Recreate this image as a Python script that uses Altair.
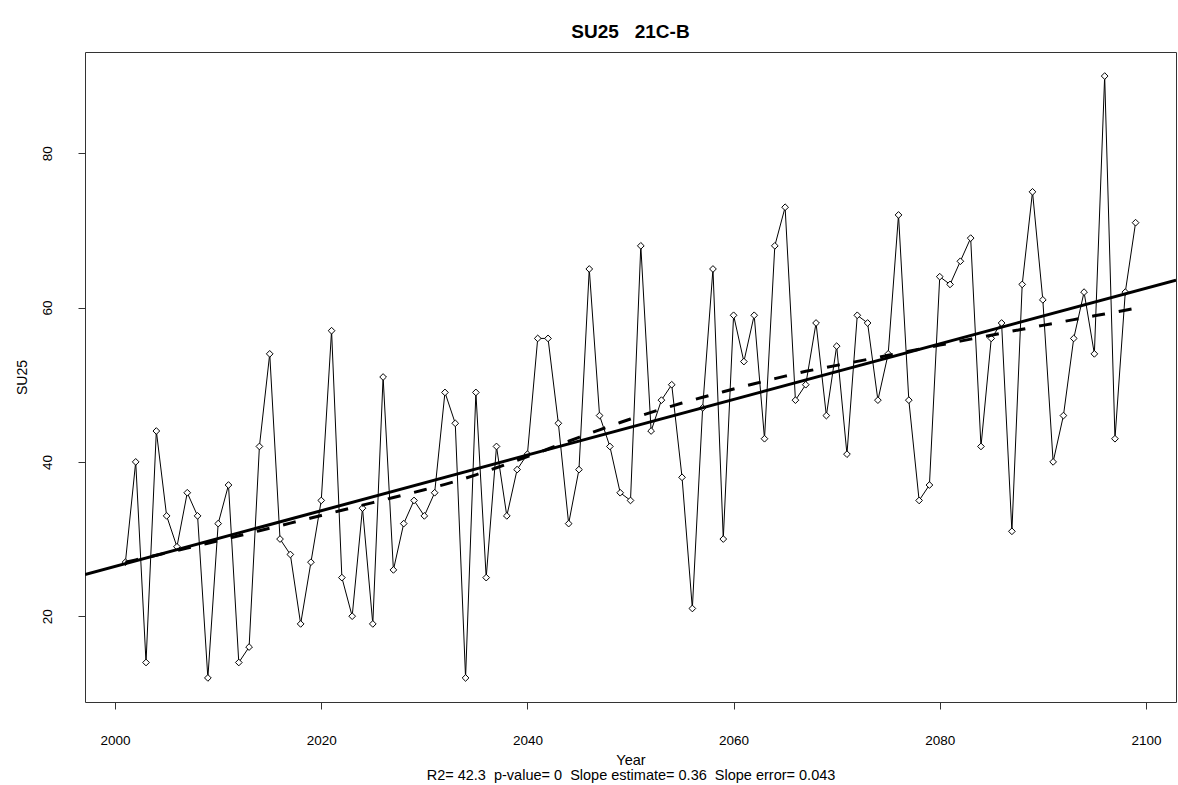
import altair as alt
import pandas as pd

years = list(range(2001, 2100))
su25 = [27, 40, 14, 44, 33, 29, 36, 33, 12, 32,
        37, 14, 16, 42, 54, 30, 28, 19, 27, 35,
        57, 25, 20, 34, 19, 51, 26, 32, 35, 33,
        36, 49, 45, 12, 49, 25, 42, 33, 39, 41,
        56, 56, 45, 32, 39, 65, 46, 42, 36, 35,
        68, 44, 48, 50, 38, 21, 47, 65, 30, 59,
        53, 59, 43, 68, 73, 48, 50, 58, 46, 55,
        41, 59, 58, 48, 54, 72, 48, 35, 37, 64,
        63, 66, 69, 42, 56, 58, 31, 63, 75, 61,
        40, 46, 56, 62, 54, 90, 43, 62, 71]
x_ticks = [2000, 2020, 2040, 2060, 2080, 2100]
y_ticks = [20, 40, 60, 80]
x_domain = [1997.08, 2102.92]
y_domain = [8.88, 93.12]

NB = "\u00a0"
title_text = "SU25" + NB * 3 + "21C-B"
sub_text = (NB * 2).join(["R2= 42.3", "p-value= 0", "Slope estimate= 0.36", "Slope error= 0.043"])

df = pd.DataFrame({"Year": years, "SU25": su25})
FONT = "Liberation Sans"

xs = alt.X("Year:Q",
           scale=alt.Scale(domain=x_domain, nice=False, zero=False),
           axis=alt.Axis(values=x_ticks, format="d", grid=False, domain=False,
                         tickSize=7, tickColor="#333", labelFontSize=13.5, labelPadding=24,
                         labelColor="#000", labelFont=FONT,
                         title=["Year", sub_text], titleFont=FONT, titleFontSize=14.5,
                         titleFontWeight="normal", titleColor="#000",
                         titleLineHeight=15, titleBaseline="top", titleY=51))
ys = alt.Y("SU25:Q",
           scale=alt.Scale(domain=y_domain, nice=False, zero=False),
           axis=alt.Axis(values=y_ticks, grid=False, domain=False,
                         tickSize=7, tickColor="#333", labelFontSize=13.5,
                         labelAngle=-90, labelAlign="center", labelBaseline="middle",
                         labelPadding=31, labelColor="#000", labelFont=FONT,
                         title="SU25", titleFont=FONT, titleFontSize=14,
                         titleFontWeight="normal", titleColor="#000",
                         titleAngle=-90, titleBaseline="middle", titleX=-63))

base = alt.Chart(df)
line = base.mark_line(color="black", strokeWidth=1).encode(x=xs, y=ys)
pts = base.mark_point(shape="diamond", filled=True, fill="white", stroke="black",
                      strokeWidth=1, size=45, opacity=1).encode(x="Year:Q", y="SU25:Q")
reg = base.transform_regression("Year", "SU25", extent=x_domain).mark_line(
    color="black", strokeWidth=3, clip=True).encode(x="Year:Q", y="SU25:Q")
lo = base.transform_loess("Year", "SU25", bandwidth=0.66).mark_line(
    color="black", strokeWidth=3, strokeDash=[13, 14]).encode(x="Year:Q", y="SU25:Q")

chart = alt.layer(line, pts, reg, lo).properties(
    width=1091, height=650,
    autosize="none",
    padding={"left": 85, "top": 52, "right": 2, "bottom": 83},
    title=alt.TitleParams(text=title_text, font=FONT, fontSize=19, fontWeight="bold",
                          anchor="middle", frame="group", baseline="alphabetic",
                          offset=14, dy=19, color="#000"),
    background="white",
).configure_view(stroke="#333", strokeWidth=1)

chart.save("out.html", embed_options={"renderer": "svg", "actions": False})
